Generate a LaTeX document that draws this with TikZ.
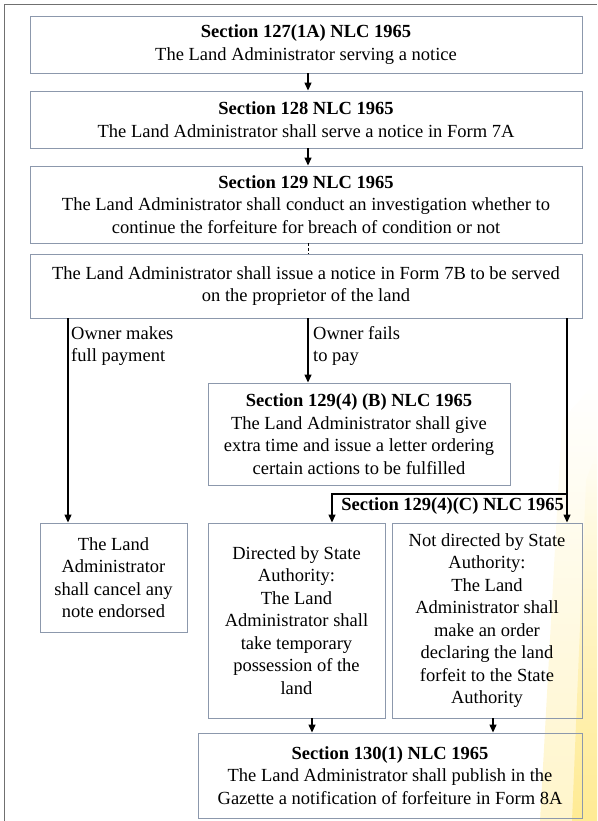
\documentclass[tikz,border=0pt]{standalone}
\usepackage{fontspec}
\setmainfont{Liberation Serif}
\usetikzlibrary{arrows.meta,fadings}
\definecolor{boxline}{RGB}{140,152,172}
\definecolor{framegray}{RGB}{112,112,112}
\definecolor{glow}{RGB}{255,222,80}
\begin{document}
\begin{tikzpicture}[x=1pt,y=-1pt,
  txt/.style={font=\fontsize{18.5}{22.5}\selectfont},
  box/.style={txt,draw=boxline,line width=0.9pt,inner sep=0pt,align=center},
  lbl/.style={txt,inner sep=0pt,align=left},
  arr/.style={line width=1.3pt,-{Triangle[width=7pt,length=8pt]}},
  link/.style={line width=1.3pt}]
\useasboundingbox (0,0) rectangle (597,821);

% soft yellow streak along the right edge
\fill[glow,opacity=0.30,path fading=north] (562,420) -- (597,380) -- (597,821) -- (540,821) -- cycle;
\fill[glow,opacity=0.45,path fading=north] (586,480) -- (597,450) -- (597,821) -- (572,821) -- cycle;

% page frame (top and left edges)
\draw[framegray,line width=1.5pt] (4.5,821) -- (4.5,4.5) -- (597,4.5);

% boxes
\node[box,minimum width=552pt,minimum height=57pt] (b1) at (306,44.5)
  {\textbf{Section 127(1A) NLC 1965}\\The Land Administrator serving a notice};
\node[box,minimum width=552pt,minimum height=57pt] (b2) at (306,119.5)
  {\textbf{Section 128 NLC 1965}\\The Land Administrator shall serve a notice in Form 7A};
\node[box,minimum width=552pt,minimum height=77pt] (b3) at (306,204.5)
  {\textbf{Section 129 NLC 1965}\\The Land Administrator shall conduct an investigation whether to\\continue the forfeiture for breach of condition or not};
\node[box,minimum width=552pt,minimum height=64pt] (b4) at (306,286)
  {The Land Administrator shall issue a notice in Form 7B to be served\\on the proprietor of the land};
\node[box,minimum width=302pt,minimum height=102pt] (bB) at (359,434)
  {\textbf{Section 129(4) (B) NLC 1965}\\The Land Administrator shall give\\extra time and issue a letter ordering\\certain actions to be fulfilled};
\node[box,minimum width=147pt,minimum height=109pt] (bcancel) at (113.5,577.5)
  {The Land\\Administrator\\shall cancel any\\note endorsed};
\node[box,minimum width=177pt,minimum height=195pt] (bdir) at (296.5,620.5)
  {Directed by State\\Authority:\\The Land\\Administrator shall\\take temporary\\possession of the\\land};
\node[box,minimum width=190pt,minimum height=195pt] (bnot) at (487,620.5)
  {Not directed by State\\Authority:\\The Land\\Administrator shall\\make an order\\declaring the land\\forfeit to the State\\Authority};
\node[box,minimum width=384pt,minimum height=85pt] (b130) at (390,775.5)
  {\textbf{Section 130(1) NLC 1965}\\The Land Administrator shall publish in the\\Gazette a notification of forfeiture in Form 8A};

% connector columns
\coordinate (xm) at (308,0);
\coordinate (xl) at (68,0);
\coordinate (xr) at (567,0);
\coordinate (xd) at (332,0);
\coordinate (split) at (567,494);
\coordinate (fork) at (332,494);
\coordinate (xd2) at (312,0);
\coordinate (xn2) at (493,0);

\draw[arr] (xm |- b1.south) -- (xm |- b2.north);
\draw[arr] (xm |- b2.south) -- (xm |- b3.north);
\draw[line width=0.8pt,dashed,dash pattern=on 3pt off 2pt] (xm |- b3.south) -- (xm |- b4.north);

\draw[arr] (xl |- b4.south) -- (xl |- bcancel.north);
\draw[arr] (xm |- b4.south) -- (xm |- bB.north);
\draw[arr] (xr |- b4.south) -- (xr |- bnot.north);
\draw[arr] (split) -- (fork) -- (xd |- bdir.north);

\draw[arr] (xd2 |- bdir.south) -- (xd2 |- b130.north);
\draw[arr] (xn2 |- bnot.south) -- (xn2 |- b130.north);

% branch labels
\node[lbl,anchor=west] (lpay) at (71,346) {Owner makes\\full payment};
\node[lbl,anchor=west] (lfail) at (313,346) {Owner fails\\to pay};
\node[txt,inner sep=0pt,anchor=east,font=\fontsize{18.5}{22.5}\selectfont\bfseries] (lsec) at (564,506) {Section 129(4)(C) NLC 1965};
\end{tikzpicture}
\end{document}
